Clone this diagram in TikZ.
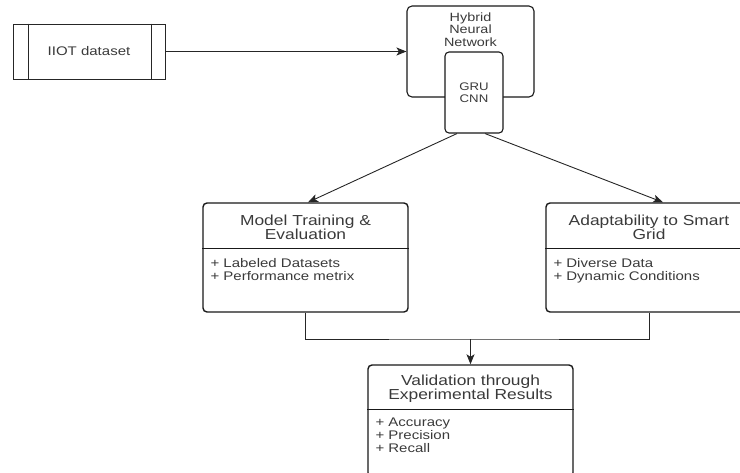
\documentclass[tikz,border=0pt]{standalone}
\usepackage{fontspec}
\setmainfont[FakeStretch=1.2]{Liberation Sans}
\usetikzlibrary{arrows.meta,positioning}
\definecolor{txtgray}{HTML}{3A3A3A}
\definecolor{linegray}{HTML}{262626}

\tikzset{
  umlbox/.style={draw=black!90, line width=1.4pt, rounded corners=4pt, minimum width=205pt, minimum height=109pt, inner sep=0pt},
  boxtitle/.style={text=txtgray, align=center, inner sep=0pt, font=\fontsize{14.5}{14}\selectfont},
  boxitems/.style={text=txtgray, align=left, inner sep=0pt, anchor=north west, font=\fontsize{12.5}{13}\selectfont},
  boxsep/.style={draw=black!90, line width=1.1pt},
  link/.style={draw=linegray, line width=0.9pt},
  arr/.style={link, -{Stealth[length=10pt,width=8pt,inset=2.5pt]}},
}

\begin{document}
\begin{tikzpicture}[x=1pt,y=-1pt]
    \useasboundingbox (0,0) rectangle (740,472);
    \clip (0,0) rectangle (740,472);

    % input and network
    \node[draw=black!85, line width=1pt, minimum width=152pt, minimum height=55pt, text=txtgray, font=\fontsize{12.5}{14}\selectfont] (iiot) at (89,51.5) {IIOT dataset};
    \draw[black!85, line width=1pt] ([xshift=16pt]iiot.north west) -- ([xshift=16pt]iiot.south west);
    \draw[black!85, line width=1pt] ([xshift=-14pt]iiot.north east) -- ([xshift=-14pt]iiot.south east);

    \node[draw=black!90, line width=1.1pt, rounded corners=5pt, minimum width=127pt, minimum height=91pt] (hnn) at (470.5,51.5) {};
    \node[below=7pt of hnn.north, text=txtgray, align=center, inner sep=0pt, font=\fontsize{12}{12.5}\selectfont] (hnnlabel) {Hybrid\\Neural\\Network};
    \node[draw=black!90, fill=white, line width=1.1pt, rounded corners=4pt, minimum width=58pt, minimum height=81pt, text=txtgray, align=center, font=\fontsize{11}{12.5}\selectfont] (gru) at (474,92.5) {GRU\\CNN};

    \draw[arr] (iiot.east) -- (hnn.west);

    % training and adaptability
    \node[umlbox] (model) at (305.5,257.5) {};
    \draw[boxsep] ([yshift=-46pt]model.north west) -- ([yshift=-46pt]model.north east);
    \node[boxtitle] (modeltitle) at ([yshift=-25pt]model.north) {Model Training \&\\Evaluation};
    \node[boxitems] (modelitems) at ([xshift=8pt,yshift=-56pt]model.north west) {+ Labeled Datasets\\+ Performance metrix};

    \node[umlbox, minimum width=206pt] (adapt) at (649,257.5) {};
    \draw[boxsep] ([yshift=-46pt]adapt.north west) -- ([yshift=-46pt]adapt.north east);
    \node[boxtitle] (adapttitle) at ([yshift=-25pt]adapt.north) {Adaptability to Smart\\Grid};
    \node[boxitems] (adaptitems) at ([xshift=8pt,yshift=-56pt]adapt.north west) {+ Diverse Data\\+ Dynamic Conditions};

    \draw[arr] ([xshift=-17pt]gru.south) -- ([xshift=2.5pt]model.north);
    \draw[arr] ([xshift=11pt]gru.south) -- ([xshift=14pt]adapt.north);

    % validation
    \node[umlbox, minimum height=112pt] (valid) at (470.5,421) {};
    \draw[boxsep] ([yshift=-45pt]valid.north west) -- ([yshift=-45pt]valid.north east);
    \node[boxtitle] (validtitle) at ([yshift=-24.5pt]valid.north) {Validation through\\Experimental Results};
    \node[boxitems] (validitems) at ([xshift=8pt,yshift=-53.5pt]valid.north west) {+ Accuracy\\+ Precision\\+ Recall};

    \coordinate (join) at (470.5,339);
    \draw[link] (model.south) |- (join) -| (adapt.south);
    \draw[arr] (join) -- (valid.north);

\end{tikzpicture}
\end{document}
